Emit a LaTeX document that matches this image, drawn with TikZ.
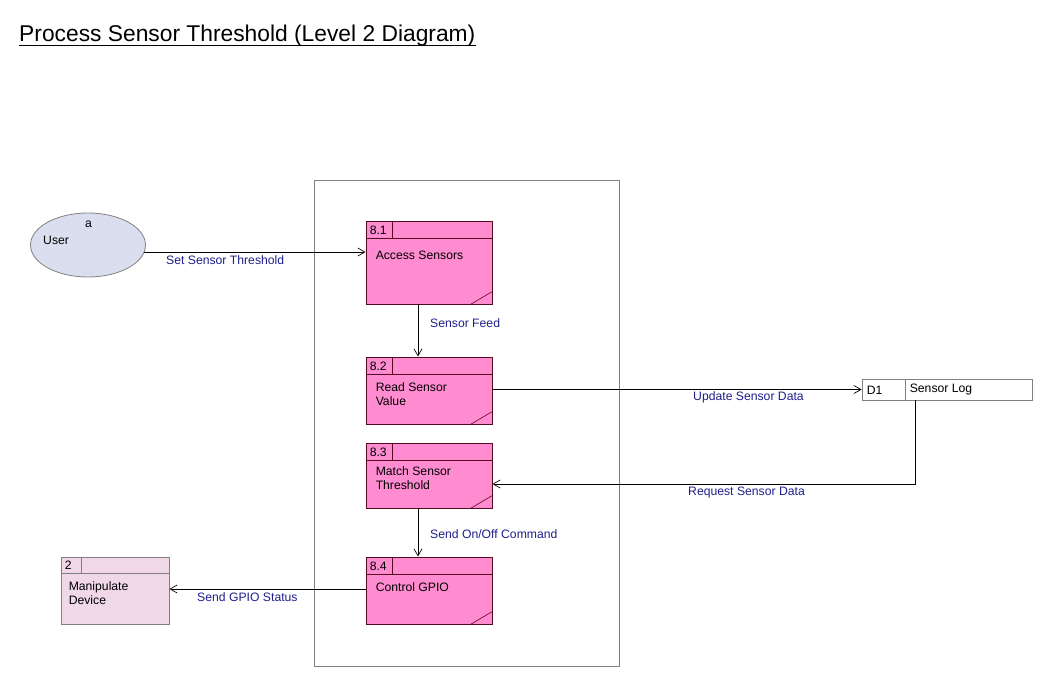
\documentclass[tikz,border=0pt]{standalone}
\usepackage{fontspec}
\setmainfont{Liberation Sans}
\usetikzlibrary{arrows.meta,calc,shapes.geometric}
\definecolor{pfill}{HTML}{FF8CD0}
\definecolor{pline}{HTML}{5A0A20}
\definecolor{lblue}{HTML}{1F1F8C}
\definecolor{ufill}{HTML}{D9DFEE}
\definecolor{gline}{HTML}{808080}
\definecolor{mfill}{HTML}{F0D8E8}
\tikzset{
  proc/.style={draw=pline, fill=pfill, line width=0.9pt, rectangle, minimum width=126pt, inner sep=0pt},
  ext/.style={draw=gline, fill=mfill, line width=0.9pt, rectangle, minimum width=108pt, minimum height=67pt, inner sep=0pt},
  ptext/.style={anchor=north west, align=left, inner sep=0pt, font=\fontsize{12.2}{14}\selectfont},
  idtext/.style={anchor=west, inner sep=0pt, font=\fontsize{12.2}{14}\selectfont},
  flowlbl/.style={anchor=west, inner sep=0pt, text=lblue, font=\fontsize{12.2}{14}\selectfont},
  flow/.style={draw=black, line width=0.7pt, -{Straight Barb[length=7pt,width=8pt]}},
}
\begin{document}
\begin{tikzpicture}[x=1pt,y=-1pt]
\useasboundingbox (0,0) rectangle (1058,676);
\fill[white] (0,0) rectangle (1058,676);

% title
\node[anchor=base west, inner sep=0pt, font=\fontsize{22.8}{26}\selectfont] (title) at (19,42) {Process Sensor Threshold (Level 2 Diagram)};
\draw[line width=1pt] ($(title.base west)+(0,3.5)$) -- ($(title.base east)+(0,3.5)$);

% boundary
\node[draw=gline, line width=0.8pt, rectangle, minimum width=305pt, minimum height=486pt, inner sep=0pt] (bnd) at (466.5,423) {};

% user
\node[draw=gline, fill=ufill, line width=0.8pt, ellipse, minimum width=115pt, minimum height=64pt, inner sep=0pt] (u) at (88,245) {};
\node[idtext] (ua) at (85,224) {a};
\node[idtext] (ul) at (43,240) {User};

% processes
\newcommand\myproc[7]{%
  \node[proc, minimum height=#4pt] (#1) at (#2,#3) {};
  \draw[pline, line width=0.9pt] ($(#1.north west)+(0,18)$) -- ($(#1.north east)+(0,18)$);
  \draw[pline, line width=0.9pt] ($(#1.north west)+(27,0)$) -- ($(#1.north west)+(27,18)$);
  \draw[pline, line width=0.6pt] ($(#1.south east)+(-22,0)$) -- ($(#1.south east)+(0,-13)$);
  \node[idtext] (#1id) at ($(#1.north west)+(4,9.5)$) {#5};
  \node[ptext] (#1tx) at ($(#1.north west)+(10,#7)$) {#6};
}
\myproc{pa}{429}{262.5}{83}{8.1}{Access Sensors}{30}
\myproc{pb}{429}{390.5}{67}{8.2}{Read Sensor\\Value}{26}
\myproc{pc}{429}{475.5}{65}{8.3}{Match Sensor\\Threshold}{24}
\myproc{pd}{429}{590.5}{67}{8.4}{Control GPIO}{26}

% external entity
\node[ext] (m) at (115,590.5) {};
\draw[gline, line width=0.9pt] ($(m.north west)+(0,17)$) -- ($(m.north east)+(0,17)$);
\draw[gline, line width=0.9pt] ($(m.north west)+(21,0)$) -- ($(m.north west)+(21,17)$);
\node[idtext] (mid) at ($(m.north west)+(4,9)$) {2};
\node[ptext] (mtx) at ($(m.north west)+(8,25)$) {Manipulate\\Device};

% data store
\node[draw=gline, line width=0.8pt, rectangle, minimum width=170pt, minimum height=21pt, inner sep=0pt] (d) at (947,389.5) {};
\draw[gline, line width=0.8pt] ($(d.north west)+(44,0)$) -- ($(d.south west)+(44,0)$);
\node[idtext] (did) at ($(d.west)+(5,0.5)$) {D1};
\node[idtext] (dtx) at ($(d.west)+(48,0.5)$) {Sensor Log};

% flows
\draw[flow] ($(u.center)+(55.6,7)$) -- ($(pa.west)+(0,-10.5)$);
\node[flowlbl] (l1) at (166,260.5) {Set Sensor Threshold};

\draw[flow] ($(pa.south)+(-11,0)$) -- ($(pb.north)+(-11,0)$);
\node[flowlbl] (l2) at (430,323.5) {Sensor Feed};

\draw[flow] ($(pb.east)+(0,-1)$) -- (d.west);
\node[flowlbl] (l3) at (693,397.5) {Update Sensor Data};

\draw[flow] ($(d.south west)+(54,0)$) |- ($(pc.east)+(0,8.5)$);
\node[flowlbl] (l4) at (688,492.5) {Request Sensor Data};

\draw[flow] ($(pc.south)+(-11,0)$) -- ($(pd.north)+(-11,0)$);
\node[flowlbl] (l5) at (430,534.5) {Send On/Off Command};

\draw[flow] ($(pd.west)+(0,-1.5)$) -- ($(m.east)+(0,-1.5)$);
\node[flowlbl] (l6) at (197,597.5) {Send GPIO Status};
\end{tikzpicture}
\end{document}
